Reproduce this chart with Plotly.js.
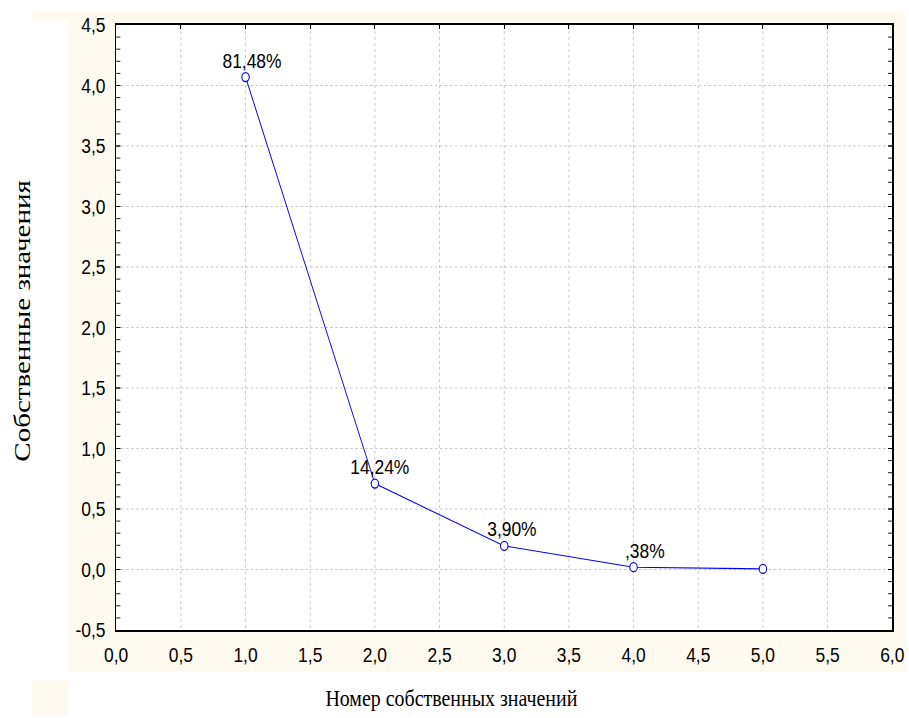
<!DOCTYPE html>
<html>
<head>
<meta charset="utf-8">
<script src="https://cdn.plot.ly/plotly-3.0.1.min.js"></script>
<style>
html,body{margin:0;padding:0;background:#fff;overflow:hidden;width:909px;height:718px;}
#chart{width:1095px;height:718px;transform:scaleX(0.83);transform-origin:0 0;}
</style>
</head>
<body>
<div id="chart"></div>
<script>
// ---- data ----
var componentNumbers = [1, 2, 3, 4, 5];
var eigenValues = [4.07, 0.71, 0.195, 0.019, 0.005];
var pointLabels = ["81,48%", "14,24%", "3,90%", ",38%", ""];
var xTickVals = [0, 0.5, 1, 1.5, 2, 2.5, 3, 3.5, 4, 4.5, 5, 5.5, 6];
var xTickText = ["0,0","0,5","1,0","1,5","2,0","2,5","3,0","3,5","4,0","4,5","5,0","5,5","6,0"];
var yTickVals = [-0.5, 0, 0.5, 1, 1.5, 2, 2.5, 3, 3.5, 4, 4.5];
var yTickText = ["-0,5","0,0","0,5","1,0","1,5","2,0","2,5","3,0","3,5","4,0","4,5"];
var xTitle = "Номер собственных значений";
var yTitle = "Собственные значения";

// ---- styling / positions (horizontal sizes given in final pixels, converted by S) ----
var S = 0.83;                       // horizontal squeeze of the original picture
var W = 1095, H = 718;              // virtual drawing size (909 / S wide)
function hx(p) { return p / S; }    // final-pixel x -> virtual x
var L = hx(116), R = W - hx(892), T = 25, B = 88;
var PW = W - L - R, PH = H - T - B;
var labelXShift = [6, 5, 8, 11, 0];
var cream = "#FFFAEF";
var sans = "'Liberation Sans', Arial, sans-serif";
var serif = "'Liberation Serif', 'Times New Roman', serif";

function px2x(p) { return (hx(p) - L) / PW; }
function py2y(p) { return (H - B - p) / PH; }
function rect(x0, y0, x1, y1) {
  return {type: "rect", xref: "paper", yref: "paper", layer: "below",
    x0: px2x(x0), x1: px2x(x1), y0: py2y(y1), y1: py2y(y0),
    fillcolor: cream, line: {width: 0}};
}

var shapes = [
  rect(32, 12, 906, 21),
  rect(68, 21, 906, T),
  rect(68, T, 116, H - B),
  rect(892, T, 906, H - B),
  rect(68, H - B, 906, 672),
  rect(32, 680, 68, 716)
];

var annotations = [];
for (var i = 0; i < componentNumbers.length; i++) {
  if (!pointLabels[i]) continue;
  annotations.push({
    x: componentNumbers[i], y: eigenValues[i], xref: "x", yref: "y",
    text: pointLabels[i], showarrow: false,
    xanchor: "center", yanchor: "middle",
    xshift: hx(labelXShift[i]), yshift: 17,
    font: {family: sans, size: 21, color: "#000"}
  });
}
annotations.push({
  xref: "paper", yref: "paper", x: px2x(451), y: py2y(698),
  xanchor: "center", yanchor: "middle", showarrow: false,
  text: xTitle, font: {family: serif, size: 24, color: "#000"}
});
annotations.push({
  xref: "paper", yref: "paper", x: px2x(22), y: py2y(321),
  xanchor: "center", yanchor: "middle", showarrow: false, textangle: -90,
  text: yTitle, font: {family: serif, size: 29, color: "#000"}
});

var traces = [
  {
    x: componentNumbers, y: eigenValues, type: "scatter", mode: "lines+markers",
    line: {color: "#0000FF", width: 1.1},
    marker: {symbol: "circle", size: 9, color: "#FFFFFF", line: {color: "#0000FF", width: 1.3}},
    hoverinfo: "x+y", cliponaxis: false
  },
  {
    x: componentNumbers, y: eigenValues, type: "scatter", mode: "markers",
    xaxis: "x2", yaxis: "y", marker: {size: 0, opacity: 0}, hoverinfo: "skip", showlegend: false
  }
];

var gridStyle = {gridcolor: "#c8c8c8", griddash: "3px,3px", gridwidth: 1.1};

var layout = {
  width: W, height: H,
  margin: {l: L, r: R, t: T, b: B, pad: 0},
  paper_bgcolor: "#FFFFFF",
  plot_bgcolor: "#FFFFFF",
  showlegend: false,
  xaxis: Object.assign({
    range: [0, 6], tickvals: xTickVals, ticktext: xTickText,
    showline: true, linecolor: "#000", linewidth: 1.7, mirror: true,
    ticks: "", zeroline: false, showgrid: true,
    ticklabelstandoff: 5,
    tickfont: {family: sans, size: 21, color: "#000"}
  }, gridStyle),
  xaxis2: {
    overlaying: "x", side: "top", anchor: "y", range: [0, 6],
    tickvals: xTickVals, showticklabels: false, ticks: "inside", ticklen: 4,
    tickwidth: 1.3, tickcolor: "#000", showgrid: false, zeroline: false, showline: false
  },
  yaxis: Object.assign({
    range: [-0.5, 4.5], tickvals: yTickVals, ticktext: yTickText,
    showline: true, linecolor: "#000", linewidth: 1.7, mirror: "ticks",
    ticks: "inside", ticklen: 5, tickcolor: "#000", zeroline: false, showgrid: true,
    minor: {dtick: 0.1, ticks: "inside", ticklen: 5, tickcolor: "#000", showgrid: false},
    ticklabelstandoff: 7,
    tickfont: {family: sans, size: 21, color: "#000"}
  }, gridStyle),
  shapes: shapes,
  annotations: annotations
};

Plotly.newPlot("chart", traces, layout, {displayModeBar: false, staticPlot: true});
</script>
</body>
</html>
